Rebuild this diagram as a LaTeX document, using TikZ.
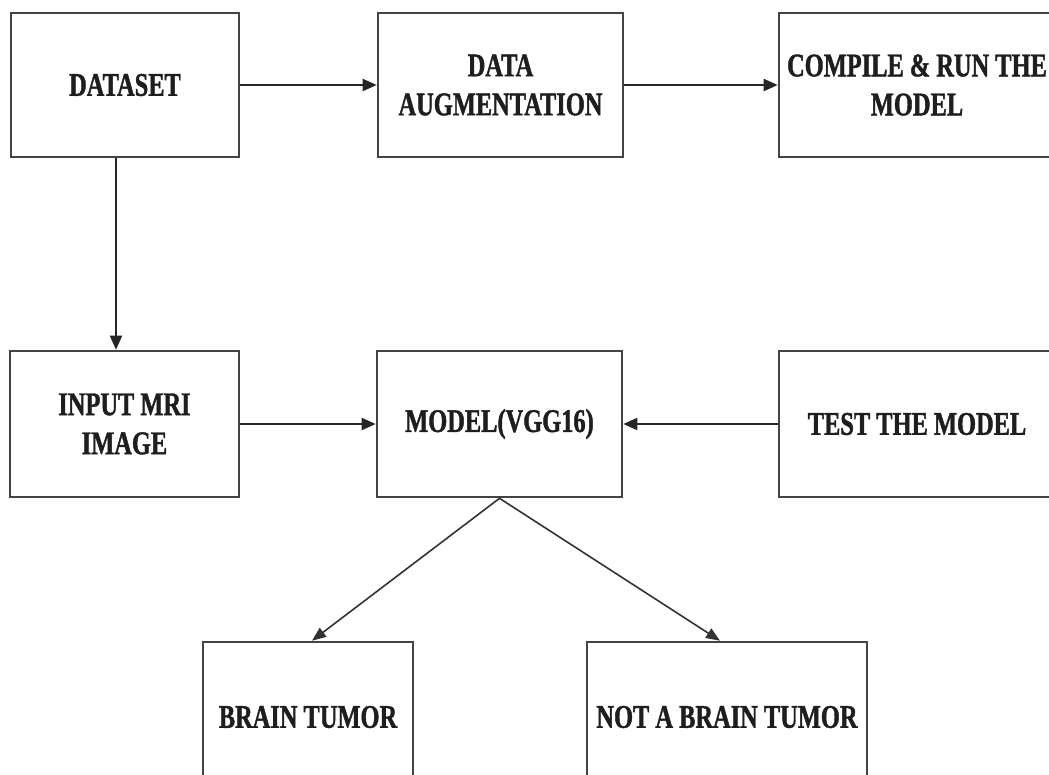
\documentclass[tikz,border=0pt]{standalone}
\usepackage{fontspec}
\setmainfont{Liberation Serif}[FakeStretch=0.74,BoldFeatures={FakeBold=1.2}]
\usetikzlibrary{arrows.meta}
\definecolor{boxline}{HTML}{444444}
\definecolor{txt}{HTML}{1E1E1E}
\begin{document}
\begin{tikzpicture}[x=1pt,y=-1pt,
  box/.style={draw=boxline,line width=2.6pt,rectangle,inner sep=0pt,align=center,
    text=txt,font=\fontsize{33}{39}\selectfont\bfseries},
  arr/.style={draw=black!85,line width=2pt,-{Triangle[length=14pt,width=12pt]}},
  darr/.style={draw=black!80,line width=1.6pt,-{Triangle[length=14pt,width=11pt]}}]
\useasboundingbox (0,0) rectangle (1049,774);
\clip (0,0) rectangle (1049,774);
\fill[white] (0,0) rectangle (1049,774);
\node[box,minimum width=228pt,minimum height=144pt] (ds) at (125,85) {DATASET};
\node[box,minimum width=245pt,minimum height=144pt] (aug) at (500.5,85) {DATA\\AUGMENTATION};
\node[box,minimum width=276pt,minimum height=144pt] (comp) at (917,85) {COMPILE \& RUN THE\\MODEL};
\node[box,minimum width=229pt,minimum height=146pt] (mri) at (124.5,424) {INPUT MRI\\IMAGE};
\node[box,minimum width=245pt,minimum height=146pt] (vgg) at (499.5,424) {MODEL(VGG16)};
\node[box,minimum width=276pt,minimum height=146pt] (test) at (917,424) {TEST THE MODEL};
\node[box,minimum width=210pt,minimum height=150pt] (bt) at (308,717) {BRAIN TUMOR};
\node[box,minimum width=280pt,minimum height=150pt] (nbt) at (727,717) {NOT A BRAIN TUMOR};
\draw[arr] (ds.east) -- (aug.west);
\draw[arr] (aug.east) -- (comp.west);
\draw[arr] ([xshift=-9pt]ds.south) -- ([xshift=-8.5pt]mri.north);
\draw[arr] (mri.east) -- (vgg.west);
\draw[arr] (test.west) -- (vgg.east);
\draw[darr] (vgg.south) -- ([xshift=4pt]bt.north);
\draw[darr] (vgg.south) -- ([xshift=-7pt]nbt.north);
\end{tikzpicture}
\end{document}
